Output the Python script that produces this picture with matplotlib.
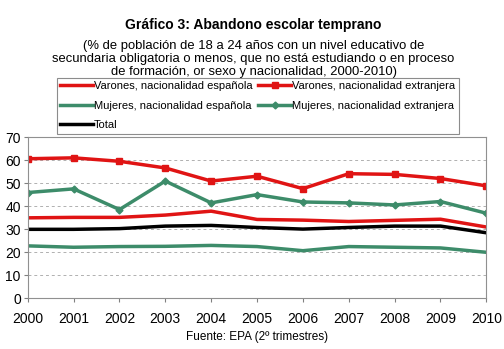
import numpy as np
import matplotlib.pyplot as plt

plt.rcParams['font.family'] = ['Liberation Sans', 'DejaVu Sans']

# Datos: % de abandono escolar temprano, EPA 2º trimestre
anios = np.arange(2000, 2011)
varones_esp = [34.9, 35.1, 35.1, 36.1, 37.8, 34.2, 33.9, 33.3, 33.8, 34.3, 30.9]
varones_ext = [60.6, 61.0, 59.5, 56.6, 50.9, 53.0, 47.6, 54.1, 53.8, 52.0, 48.8]
mujeres_esp = [22.7, 22.1, 22.4, 22.5, 22.9, 22.4, 20.6, 22.4, 22.1, 21.8, 19.9]
mujeres_ext = [45.9, 47.5, 38.5, 50.9, 41.4, 45.0, 41.8, 41.4, 40.5, 42.0, 36.9]
total = [29.9, 29.9, 30.2, 31.3, 31.6, 30.7, 30.0, 30.7, 31.3, 31.3, 28.4]

rojo = '#e01414'
verde = '#3d8c6a'

fig = plt.figure(figsize=(5.04, 3.49), dpi=100)
ax = fig.add_axes([0.055, 0.146, 0.91, 0.461])

l1, = ax.plot(anios, varones_esp, color=rojo, lw=2.5, label='Varones, nacionalidad española')
l3, = ax.plot(anios, mujeres_esp, color=verde, lw=2.5, label='Mujeres, nacionalidad española')
l5, = ax.plot(anios, total, color='black', lw=2.5, label='Total')
l2, = ax.plot(anios, varones_ext, color=rojo, lw=2.5, marker='s', ms=4.5,
              label='Varones, nacionalidad extranjera')
l4, = ax.plot(anios, mujeres_ext, color=verde, lw=2.5, marker='D', ms=3.5,
              label='Mujeres, nacionalidad extranjera')

ax.set_xlim(2000, 2010)
ax.set_ylim(0, 70)
ax.set_xticks(anios)
ax.set_yticks(range(0, 80, 10))
ax.tick_params(labelsize=10, length=3, color='#808080', pad=2)
ax.tick_params(axis='x', pad=7)
for y in range(10, 70, 10):
    ax.axhline(y, color='#b0b0b0', lw=0.7, ls=(0, (3, 3)), zorder=0)
for s in ax.spines.values():
    s.set_color('#909090')
    s.set_linewidth(0.8)

leg = fig.legend(handles=[l1, l3, l5, l2, l4], ncol=2, loc='upper left',
                 bbox_to_anchor=(57 / 504, 1 - 78 / 349), fontsize=8.0,
                 frameon=True, fancybox=False, edgecolor='#707070',
                 handlelength=2.9, handletextpad=0.15, columnspacing=0.5,
                 borderpad=0.3, labelspacing=0.85, borderaxespad=0)
leg.get_frame().set_linewidth(0.8)

fig.text(0.503, 1 - 25 / 349, 'Gráfico 3: Abandono escolar temprano',
         ha='center', va='center', fontsize=10, fontweight='bold')
fig.text(0.503, 1 - 59 / 349,
         '(% de población de 18 a 24 años con un nivel educativo de\n'
         'secundaria obligatoria o menos, que no está estudiando o en proceso\n'
         'de formación, or sexo y nacionalidad, 2000-2010)',
         ha='center', va='center', fontsize=9.4, linespacing=1.1)
fig.text(0.51, 1 - 337 / 349, 'Fuente: EPA (2º trimestres)',
         ha='center', va='center', fontsize=8.5)

plt.savefig('out.png', dpi=100)
